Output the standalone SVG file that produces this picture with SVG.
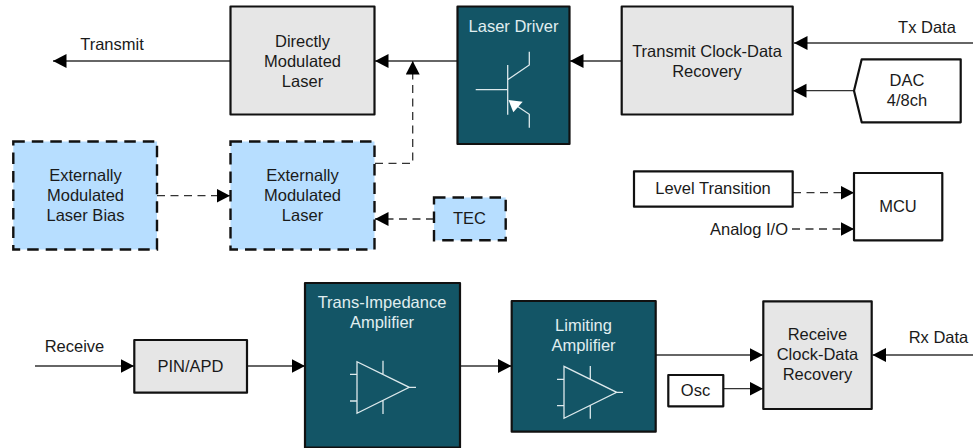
<svg xmlns="http://www.w3.org/2000/svg" width="973" height="448" viewBox="0 0 973 448">
<style>
text{font-family:"Liberation Sans",Arial,sans-serif;font-size:16.5px;fill:#1a1a1a;text-anchor:middle}
.lt{fill:#e0eef0}
.box{stroke:#111;stroke-width:2.2;stroke-linejoin:round}
.grey{fill:#e6e6e6}.teal{fill:#135566}.white{fill:#fff}
.blue{fill:#b7deff;stroke:#111;stroke-width:2.4;stroke-dasharray:11.5 7}
.w{fill:none;stroke:#dde9ec;stroke-width:1.3}
.c{fill:none;stroke:#333;stroke-width:1.3;marker-end:url(#a)}
.d{stroke-dasharray:8 5.5}
</style>
<defs>
<marker id="a" markerUnits="userSpaceOnUse" markerWidth="14" markerHeight="15" refX="13.5" refY="7" orient="auto"><path d="M0 0L13.5 7L0 14Z" fill="#000"/></marker>
</defs>
<rect width="973" height="448" fill="#fff"/>
<g id="connectors">
<path class="c" d="M230 61H53"/>
<path class="c" d="M457 61H375"/>
<path class="c d" d="M375 163.3H412.7V61"/>
<path class="c" d="M622 61H570"/>
<path class="c" d="M973 43H794"/>
<path class="c" d="M854 90.7H793"/>
<path class="c d" d="M793 192.7H854"/>
<path class="c d" d="M792 229H854"/>
<path class="c d" d="M157 195.7H230"/>
<path class="c d" d="M434 219H375"/>
<path class="c" d="M35 366H134"/>
<path class="c" d="M247 366H305"/>
<path class="c" d="M460 366H511.5"/>
<path class="c" d="M656 355H763"/>
<path class="c" d="M723 388.7H763"/>
<path class="c" d="M973 355H872.5"/>
</g>
<g id="transmit-label"><text x="112" y="50">Transmit</text></g>
<g id="dml"><rect class="box grey" x="230.5" y="6.5" width="144" height="108"/><text x="302.5" y="46.5">Directly</text><text x="302.5" y="66.5">Modulated</text><text x="302.5" y="86.5">Laser</text></g>
<g id="laser-driver"><rect class="box teal" x="457.5" y="6.5" width="112" height="137.5"/><text class="lt" x="513.5" y="32">Laser Driver</text>
<path class="w" d="M475.7 89.7H507.7M507.7 65V114.7M507.7 79.7L529.3 65V51.7M511 102L529.3 114.3V127.7"/><path d="M508.5 100L522.7 101.7L513.3 112.3Z" fill="#fff"/></g>
<g id="tx-cdr"><rect class="box grey" x="621.7" y="6.5" width="171" height="108"/><text x="707" y="56.5">Transmit Clock-Data</text><text x="707" y="76.5">Recovery</text></g>
<g id="tx-data-label"><text x="927" y="33">Tx Data</text></g>
<g id="dac"><path class="box white" d="M861.7 59.3H960.7V122.3H861.7L854 90.7Z"/><text x="907" y="86">DAC</text><text x="907" y="106">4/8ch</text></g>
<g id="level-transition"><rect class="box white" x="634" y="171.3" width="158.7" height="35.4"/><text x="713" y="194">Level Transition</text></g>
<g id="mcu"><rect class="box white" x="854" y="173" width="88.3" height="67.3"/><text x="898" y="212">MCU</text></g>
<g id="analog-label"><text x="749" y="235">Analog I/O</text></g>
<g id="eml-bias"><rect class="blue" x="13.3" y="141.5" width="143.7" height="108"/><text x="85.5" y="180.5">Externally</text><text x="85.5" y="201">Modulated</text><text x="85.5" y="221">Laser Bias</text></g>
<g id="eml"><rect class="blue" x="230.5" y="141.5" width="144" height="108"/><text x="302.5" y="180.5">Externally</text><text x="302.5" y="201">Modulated</text><text x="302.5" y="221">Laser</text></g>
<g id="tec"><rect class="blue" x="434" y="197.5" width="71.7" height="42.8"/><text x="469.5" y="224">TEC</text></g>
<g id="receive-label"><text x="74.5" y="352">Receive</text></g>
<g id="pin-apd"><rect class="box grey" x="134.3" y="340" width="112.7" height="52.7"/><text x="190.5" y="371.5">PIN/APD</text></g>
<g id="tia"><rect class="box teal" x="305" y="283" width="155" height="164.5"/><text class="lt" x="382" y="308">Trans-Impedance</text><text class="lt" x="382" y="328">Amplifier</text>
<path class="w" d="M357 361.7V413.3L409.3 387.3ZM350 374.3H357M350 401H357M409.3 387.3H416M383 360.7V374.5M383 400.5V414"/></g>
<g id="limiting"><rect class="box teal" x="511.7" y="301" width="144" height="130.7"/><text class="lt" x="583.5" y="331">Limiting</text><text class="lt" x="583.5" y="351">Amplifier</text>
<path class="w" d="M564 366.3V418.3L616.7 392.3ZM557 379.3H564M557 405.7H564M616.7 392.3H623M590.3 366V379.5M590.3 405V418.7"/></g>
<g id="rx-cdr"><rect class="box grey" x="763.3" y="301.3" width="108.4" height="107.7"/><text x="817.5" y="340">Receive</text><text x="817.5" y="360">Clock-Data</text><text x="817.5" y="380">Recovery</text></g>
<g id="osc"><rect class="box white" x="668.3" y="375" width="55" height="31.3"/><text x="695.5" y="396">Osc</text></g>
<g id="rx-data-label"><text x="938.5" y="343">Rx Data</text></g>
</svg>
